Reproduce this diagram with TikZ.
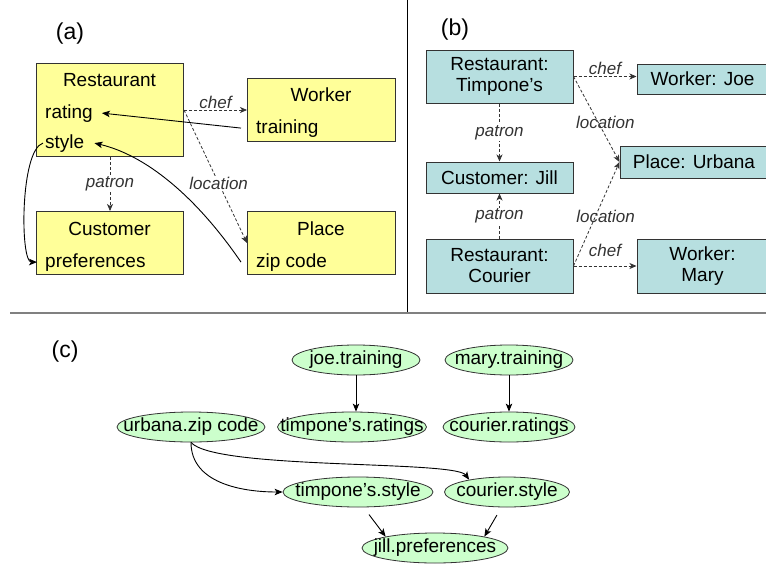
\documentclass[tikz,border=0pt]{standalone}
\usepackage{fontspec}
\setmainfont{Liberation Sans}
\usetikzlibrary{arrows.meta, shapes.geometric}

\definecolor{amarillo}{HTML}{FFFF99}
\definecolor{turquesa}{HTML}{B7DFE0}
\definecolor{verde}{HTML}{CCFFCC}

\tikzset{
  cajaA/.style={draw=black!80, line width=1pt, fill=amarillo, anchor=north west, inner sep=0pt},
  cajaB/.style={draw=black!80, line width=1pt, fill=turquesa, align=center, inner sep=0pt},
  ovalo/.style={ellipse, draw=black!80, line width=0.8pt, fill=verde, inner sep=0pt, minimum height=30pt},
  titulo/.style={anchor=base, inner sep=0pt},
  atrib/.style={anchor=base west, inner sep=0pt},
  rel/.style={-{Stealth[length=7pt,width=6pt,inset=2pt]}, dash pattern=on 3pt off 2pt, line width=0.8pt, black!80},
  dep/.style={-{Stealth[length=8pt,width=6.5pt,inset=2pt]}, line width=0.9pt},
  etiq/.style={font=\fontsize{17}{19}\selectfont\itshape, inner sep=1pt},
  panel/.style={font=\fontsize{23}{26}\selectfont},
}

\begin{document}
\begin{tikzpicture}[x=1pt, y=-1pt, font=\fontsize{19}{21}\selectfont]
  \useasboundingbox (0,0) rectangle (766,573);

  % Separadores
  \draw[line width=1pt] (407,0) -- (407,313);
  \draw[gray, line width=2pt] (10,313) -- (766,313);

  % (a) esquema
  \node[panel] (la) at (70,34) {(a)};
  \node[cajaA, minimum width=147pt, minimum height=93pt] (rest) at (36,63) {};
  \node[cajaA, minimum width=148pt, minimum height=63pt] (work) at (247,78) {};
  \node[cajaA, minimum width=147pt, minimum height=63pt] (cust) at (36,211) {};
  \node[cajaA, minimum width=148pt, minimum height=63pt] (place) at (247,211) {};

  \node[titulo] (restT) at (109.5,86) {Restaurant};
  \node[atrib] (rating) at (45,118) {rating};
  \node[atrib] (style) at (45,148) {style};
  \node[titulo] (workT) at (321,101) {Worker};
  \node[atrib] (training) at (256,133) {training};
  \node[titulo] (custT) at (109.5,235) {Customer};
  \node[atrib] (pref) at (45,267) {preferences};
  \node[titulo] (placeT) at (321,235) {Place};
  \node[atrib] (zip) at (256,267) {zip code};

  \draw[rel] (rest.east) -- node[etiq, above] (chefA) {chef} (rest.east -| work.west);
  \draw[rel] (rest.east) -- node[etiq, fill=white, pos=0.55] (locA) {location} (place.west);
  \draw[rel] (rest.south) -- node[etiq, fill=white] (patA) {patron} (cust.north);

  \draw[dep] ([xshift=-15pt]training.west) -- ([xshift=9pt]rating.east);
  \draw[dep] ([xshift=-15pt]zip.west) .. controls (195,195) and (145,155) .. ([xshift=10pt]style.east);
  \draw[dep] ([xshift=-2pt]style.west) .. controls (20,150) and (20,262) .. ([xshift=-8pt]pref.west);

  % (b) instancias
  \node[panel] (lb) at (455,30) {(b)};
  \node[cajaB, minimum width=147pt, minimum height=53pt] (timp) at (499.5,76.5) {Restaurant:\\Timpone's};
  \node[cajaB, minimum width=131pt, minimum height=30pt] (joeB) at (702.5,79) {Worker: Joe};
  \node[cajaB, minimum width=148pt, minimum height=32pt] (urb) at (694,162) {Place: Urbana};
  \node[cajaB, minimum width=147pt, minimum height=31pt] (jill) at (499.5,177.5) {Customer: Jill};
  \node[cajaB, minimum width=147pt, minimum height=54pt] (cour) at (499.5,266) {Restaurant:\\Courier};
  \node[cajaB, minimum width=131pt, minimum height=54pt] (mary) at (702.5,266) {Worker:\\Mary};

  \draw[rel] (timp.east) -- node[etiq, above] (chefB1) {chef} (timp.east -| joeB.west);
  \draw[rel] (timp.east) -- node[etiq, pos=0.54, xshift=7pt] (locB1) {location} (urb.west);
  \draw[rel] (timp.south) -- node[etiq, fill=white] (patB1) {patron} (jill.north);
  \draw[rel] (cour.north) -- node[etiq, fill=white] (patB2) {patron} (jill.south);
  \draw[rel] (cour.east) -- node[etiq, pos=0.48, xshift=10pt] (locB2) {location} (urb.west);
  \draw[rel] (cour.east) -- node[etiq, above=8pt] (chefB2) {chef} (mary.west);

  % (c) dependencias
  \node[panel] (lc) at (65,352) {(c)};
  \node[ovalo, minimum width=128pt, label={center:joe.training}] (joeT) at (356,360) {};
  \node[ovalo, minimum width=128pt, label={center:mary.training}] (maryT) at (509,360) {};
  \node[ovalo, minimum width=148pt, label={center:urbana.zip code}] (urbZ) at (191,427) {};
  \node[ovalo, minimum width=149pt, label={center:timpone's.ratings}] (timpR) at (352,427) {};
  \node[ovalo, minimum width=132pt, label={center:courier.ratings}] (courR) at (509,427) {};
  \node[ovalo, minimum width=150pt, label={center:timpone's.style}] (timpS) at (358,492) {};
  \node[ovalo, minimum width=125pt, label={center:courier.style}] (courS) at (507,492) {};
  \node[ovalo, minimum width=146pt, label={center:jill.preferences}] (jillP) at (435,548) {};

  \draw[dep] (joeT.south) -- (joeT.south |- timpR.north);
  \draw[dep] (maryT.south) -- (maryT.south |- courR.north);
  \draw[dep] (urbZ.south) to[out=-90, in=180] (timpS.west);
  \draw[dep] (urbZ.south) .. controls (215,470) and (455,460) .. (courS.162);
  \draw[dep, shorten <=9pt] (timpS.290) -- (jillP.167);
  \draw[dep, shorten <=9pt] (courS.250) -- (jillP.13);
\end{tikzpicture}
\end{document}
